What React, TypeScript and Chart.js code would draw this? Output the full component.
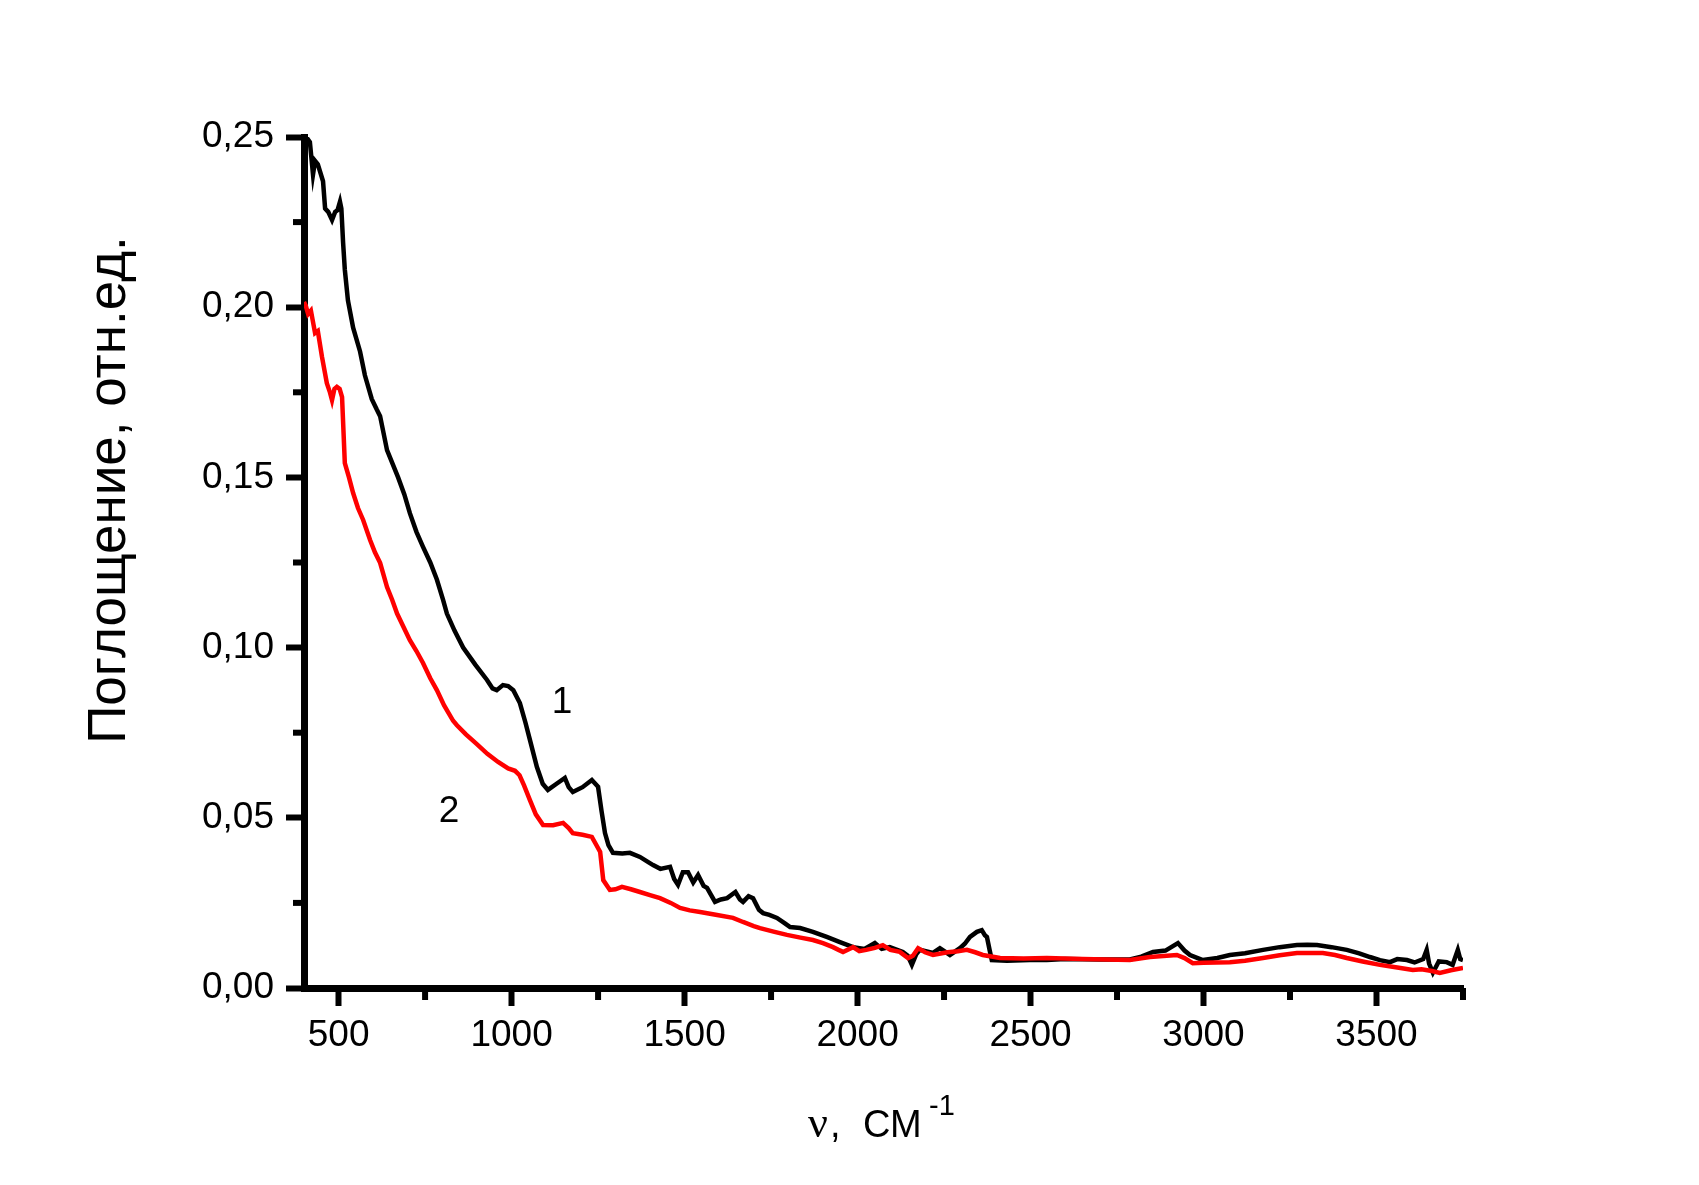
import React, { useEffect, useRef } from 'react';
import { Chart, registerables } from 'chart.js';

Chart.register(...registerables);

// curve 1 (black)
const wavenumbers1 = [
  400, 410, 417, 426, 432, 440, 455, 461, 470, 481, 490, 497, 504, 508, 513, 518, 527, 542, 562, 576,
  596, 610, 620, 640, 672, 690, 706, 725, 744, 765, 784, 802, 813, 835, 860, 895, 929, 945, 957, 975,
  990, 1005, 1024, 1040, 1053, 1073, 1090, 1105, 1130, 1154, 1165, 1177, 1205, 1232, 1250, 1260, 1270, 1280, 1293, 1320,
  1342, 1371, 1395, 1409, 1430, 1458, 1470, 1481, 1495, 1510, 1525, 1539, 1555, 1565, 1588, 1605, 1623, 1647, 1660, 1669,
  1685, 1698, 1715, 1727, 1745, 1767, 1790, 1805, 1834, 1871, 1911, 1949, 1987, 2020, 2050, 2070, 2093, 2131, 2145, 2157,
  2170, 2180, 2218, 2238, 2267, 2296, 2310, 2325, 2345, 2359, 2368, 2374, 2382, 2388, 2432, 2498, 2547, 2600, 2700, 2787,
  2820, 2854, 2890, 2926, 2945, 2961, 2998, 3040, 3076, 3120, 3172, 3220, 3270, 3300, 3328, 3370, 3414, 3450, 3481, 3510,
  3539, 3560, 3588, 3610, 3635, 3645, 3652, 3663, 3680, 3703, 3720, 3735, 3742, 3750,
];
const absorbance1 = [
  0.25, 0.2495, 0.2485, 0.239, 0.243, 0.242, 0.237, 0.229, 0.228, 0.2256, 0.228, 0.2285, 0.231, 0.229, 0.219, 0.211, 0.202, 0.194, 0.187, 0.18,
  0.173, 0.17, 0.168, 0.158, 0.15, 0.145, 0.1395, 0.134, 0.1296, 0.125, 0.12, 0.114, 0.11, 0.105, 0.1, 0.095, 0.0905, 0.088, 0.0875, 0.089,
  0.0887, 0.0875, 0.0837, 0.078, 0.0729, 0.065, 0.06, 0.0582, 0.06, 0.0617, 0.059, 0.0576, 0.059, 0.0611, 0.0591, 0.052, 0.0455, 0.042, 0.0397, 0.0395,
  0.0397, 0.0385, 0.037, 0.0361, 0.035, 0.0356, 0.032, 0.0303, 0.034, 0.034, 0.031, 0.0332, 0.03, 0.0294, 0.0253, 0.026, 0.0264, 0.0282, 0.026, 0.0253,
  0.027, 0.0264, 0.023, 0.022, 0.0215, 0.0206, 0.019, 0.0179, 0.0176, 0.0165, 0.015, 0.0135, 0.012, 0.0115, 0.0132, 0.0115, 0.012, 0.0106, 0.0095, 0.0068,
  0.01, 0.0112, 0.0103, 0.0117, 0.0097, 0.0117, 0.013, 0.015, 0.0165, 0.017, 0.0155, 0.015, 0.011, 0.0082, 0.008, 0.0082, 0.0082, 0.0085, 0.0084, 0.0084,
  0.0092, 0.0106, 0.011, 0.0132, 0.011, 0.0097, 0.0082, 0.0088, 0.0097, 0.0102, 0.0112, 0.012, 0.0126, 0.0127, 0.0126, 0.012, 0.0112, 0.0102, 0.0091, 0.0082,
  0.0076, 0.0085, 0.0082, 0.0075, 0.0085, 0.0112, 0.0072, 0.0045, 0.0078, 0.0076, 0.0068, 0.0112, 0.0085, 0.0082,
];

// curve 2 (red)
const wavenumbers2 = [
  400, 405, 412, 420, 432, 440, 452, 466, 475, 481, 488, 495, 503, 510, 518, 530, 542, 556, 571, 591,
  605, 620, 640, 655, 669, 688, 706, 725, 744, 765, 784, 805, 831, 842, 868, 898, 930, 961, 990, 1010,
  1023, 1036, 1053, 1070, 1091, 1120, 1149, 1165, 1177, 1205, 1232, 1245, 1256, 1265, 1284, 1300, 1319, 1345, 1371, 1400,
  1429, 1460, 1487, 1515, 1545, 1590, 1640, 1669, 1700, 1718, 1760, 1796, 1835, 1871, 1900, 1929, 1945, 1958, 1987, 2005,
  2025, 2050, 2073, 2095, 2122, 2146, 2160, 2175, 2195, 2218, 2260, 2290, 2316, 2340, 2362, 2412, 2480, 2547, 2650, 2787,
  2845, 2923, 2945, 2969, 3000, 3076, 3120, 3172, 3220, 3270, 3345, 3380, 3414, 3460, 3510, 3560, 3605, 3630, 3660, 3683,
  3715, 3750,
];
const absorbance2 = [
  0.2015, 0.2005, 0.198, 0.199, 0.1924, 0.193, 0.1854, 0.1777, 0.175, 0.1727, 0.176, 0.1766, 0.176, 0.1736, 0.1542, 0.15, 0.1454, 0.141, 0.1375, 0.1316,
  0.128, 0.1249, 0.1178, 0.114, 0.11, 0.106, 0.1022, 0.099, 0.0955, 0.091, 0.0875, 0.083, 0.0785, 0.0772, 0.0745, 0.0718, 0.0688, 0.0664, 0.0645, 0.0638,
  0.0625, 0.0595, 0.0552, 0.051, 0.0479, 0.0478, 0.0485, 0.047, 0.0455, 0.045, 0.0444, 0.042, 0.04, 0.0317, 0.0288, 0.029, 0.0297, 0.029, 0.0282, 0.0273,
  0.0264, 0.025, 0.0235, 0.0228, 0.0223, 0.0215, 0.0206, 0.0194, 0.0182, 0.0176, 0.0165, 0.0156, 0.0148, 0.0141, 0.0132, 0.012, 0.0112, 0.0106, 0.012, 0.0108,
  0.0112, 0.0118, 0.0126, 0.0112, 0.0106, 0.0088, 0.0095, 0.0117, 0.0105, 0.0097, 0.0105, 0.0108, 0.0112, 0.0105, 0.0097, 0.0088, 0.0087, 0.0088, 0.0085, 0.0082,
  0.0091, 0.0097, 0.0088, 0.0073, 0.0074, 0.0076, 0.008, 0.0088, 0.0096, 0.0103, 0.0103, 0.0097, 0.0088, 0.0078, 0.0068, 0.006, 0.0053, 0.0055, 0.005, 0.0044,
  0.0052, 0.0059,
];

const xMajorTicks = [500, 1000, 1500, 2000, 2500, 3000, 3500];
const xMinorTicks = [750, 1250, 1750, 2250, 2750, 3250, 3750];
const yMajorTicks = [0, 0.05, 0.1, 0.15, 0.2, 0.25];
const yMinorTicks = [0.025, 0.075, 0.125, 0.175, 0.225];

const curveLabels = ['1', '2'];
const curveLabelX = [1146, 819];
const curveLabelY = [0.0837, 0.0517];

const yTitle = 'Поглощение, отн.ед.';

const SANS = "'Liberation Sans', Arial, sans-serif";
const SERIF = "'Liberation Serif', 'Times New Roman', serif";

const decorPlugin = {
  id: 'decor',
  afterDraw(chart: any) {
    const { ctx, chartArea } = chart;
    const xs = chart.scales.x;
    const ys = chart.scales.y;
    ctx.save();
    ctx.strokeStyle = '#000';
    ctx.lineWidth = 6;
    // minor ticks
    xMinorTicks.forEach((v) => {
      const px = xs.getPixelForValue(v);
      ctx.beginPath();
      ctx.moveTo(px, chartArea.bottom);
      ctx.lineTo(px, chartArea.bottom + 12);
      ctx.stroke();
    });
    yMinorTicks.forEach((v) => {
      const py = ys.getPixelForValue(v);
      ctx.beginPath();
      ctx.moveTo(chartArea.left, py);
      ctx.lineTo(chartArea.left - 11, py);
      ctx.stroke();
    });

    ctx.fillStyle = '#000';
    // curve numbers
    ctx.font = `37px ${SANS}`;
    ctx.textAlign = 'center';
    ctx.textBaseline = 'middle';
    curveLabels.forEach((t, i) => {
      ctx.fillText(t, xs.getPixelForValue(curveLabelX[i]), ys.getPixelForValue(curveLabelY[i]));
    });

    // y axis title
    ctx.save();
    ctx.translate(125, 490);
    ctx.rotate(-Math.PI / 2);
    ctx.font = `53px ${SANS}`;
    ctx.textAlign = 'center';
    ctx.textBaseline = 'alphabetic';
    ctx.fillText(yTitle, 0, 0);
    ctx.restore();

    // x axis title
    ctx.textAlign = 'left';
    ctx.textBaseline = 'alphabetic';
    ctx.font = `44px ${SERIF}`;
    ctx.fillText('ν', 808, 1137);
    ctx.font = `38px ${SANS}`;
    ctx.fillText(',', 830, 1137);
    ctx.fillText('СМ', 863, 1137);
    ctx.font = `29px ${SANS}`;
    ctx.fillText('-1', 929, 1115);
    ctx.restore();
  },
};

const App = () => {
  const canvasRef = useRef<HTMLCanvasElement>(null);

  useEffect(() => {
    if (!canvasRef.current) return;

    const chart = new Chart(canvasRef.current, {
      type: 'line',
      data: {
        datasets: [
          {
            label: '2',
            data: wavenumbers2.map((x, i) => ({ x, y: absorbance2[i] })),
            borderColor: '#ff0000',
            borderWidth: 4.5,
            pointRadius: 0,
            tension: 0,
            order: 0,
          },
          {
            label: '1',
            data: wavenumbers1.map((x, i) => ({ x, y: absorbance1[i] })),
            borderColor: '#000000',
            borderWidth: 4.5,
            pointRadius: 0,
            tension: 0,
            order: 1,
          },
        ],
      },
      options: {
        animation: false,
        responsive: true,
        maintainAspectRatio: false,
        devicePixelRatio: 1,
        layout: { padding: { top: 137, right: 236, left: 0, bottom: 0 } },
        plugins: {
          legend: { display: false },
          tooltip: { enabled: false },
        },
        scales: {
          x: {
            type: 'linear',
            min: 400,
            max: 3750,
            afterBuildTicks: (scale: any) => {
              scale.ticks = xMajorTicks.map((value) => ({ value }));
            },
            afterFit: (scale: any) => {
              scale.height = 197;
            },
            border: { display: true, color: '#000', width: 7 },
            grid: {
              drawOnChartArea: false,
              drawTicks: true,
              tickLength: 18,
              tickWidth: 6,
              tickColor: '#000',
            },
            ticks: {
              autoSkip: false,
              maxRotation: 0,
              padding: 8,
              color: '#000',
              font: { family: SANS, size: 37 },
              callback: (value: any) => String(value),
            },
          },
          y: {
            type: 'linear',
            min: 0,
            max: 0.25,
            afterBuildTicks: (scale: any) => {
              scale.ticks = yMajorTicks.map((value) => ({ value }));
            },
            afterFit: (scale: any) => {
              scale.width = 304;
            },
            border: { display: true, color: '#000', width: 7 },
            grid: {
              drawOnChartArea: false,
              drawTicks: true,
              tickLength: 18,
              tickWidth: 6,
              tickColor: '#000',
            },
            ticks: {
              autoSkip: false,
              padding: 12,
              color: '#000',
              font: { family: SANS, size: 37 },
              callback: (value: any) => Number(value).toFixed(2).replace('.', ','),
            },
          },
        },
      },
      plugins: [decorPlugin],
    });

    return () => {
      chart.destroy();
    };
  }, []);

  return (
    <div style={{ position: 'absolute', left: 0, top: 0, width: '1699px', height: '1185px', background: '#fff' }}>
      <canvas ref={canvasRef} />
    </div>
  );
};

export default App;
